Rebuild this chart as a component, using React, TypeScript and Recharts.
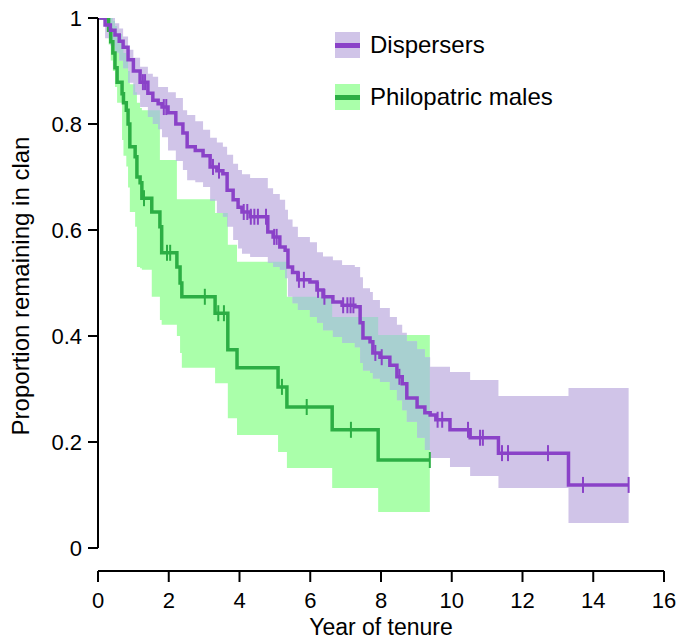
import React from 'react';
import { ComposedChart, Area, Line, Scatter, XAxis, YAxis, ReferenceLine, Legend, Label } from 'recharts';

// Dispersers: Kaplan-Meier steps (time in years)
const dispTime = [0, 0.2, 0.35, 0.48, 0.6, 0.71, 0.85, 1.0, 1.19, 1.41, 1.55, 1.7, 1.81, 1.98, 2.2, 2.4, 2.52, 2.75, 2.97, 3.17, 3.36, 3.53, 3.65, 3.82, 3.96, 4.07, 4.3, 4.8, 4.95, 5.14, 5.29, 5.37, 5.5, 5.65, 5.99, 6.19, 6.36, 6.64, 6.9, 7.26, 7.41, 7.49, 7.69, 7.77, 7.97, 8.25, 8.45, 8.6, 8.73, 9.02, 9.24, 9.39, 9.55, 9.95, 10.52, 11.32, 13.3, 15.0];
const dispSurv = [1, 0.987, 0.977, 0.968, 0.956, 0.945, 0.921, 0.9, 0.879, 0.858, 0.845, 0.838, 0.832, 0.821, 0.8, 0.783, 0.757, 0.75, 0.74, 0.719, 0.712, 0.706, 0.675, 0.657, 0.643, 0.634, 0.625, 0.596, 0.587, 0.568, 0.562, 0.53, 0.52, 0.506, 0.502, 0.487, 0.474, 0.464, 0.458, 0.455, 0.425, 0.396, 0.389, 0.368, 0.36, 0.345, 0.323, 0.31, 0.283, 0.266, 0.255, 0.251, 0.242, 0.223, 0.208, 0.179, 0.119, 0.119];
const dispLower = [1, 0.962, 0.948, 0.935, 0.92, 0.905, 0.878, 0.855, 0.832, 0.813, 0.8, 0.79, 0.775, 0.75, 0.73, 0.713, 0.694, 0.69, 0.681, 0.655, 0.632, 0.625, 0.606, 0.581, 0.565, 0.555, 0.549, 0.538, 0.53, 0.525, 0.509, 0.474, 0.462, 0.449, 0.436, 0.425, 0.411, 0.398, 0.387, 0.379, 0.349, 0.335, 0.33, 0.32, 0.313, 0.298, 0.279, 0.26, 0.238, 0.208, 0.185, 0.17, 0.17, 0.153, 0.136, 0.113, 0.047, 0.047];
const dispUpper = [1, 1, 1, 0.99, 0.98, 0.965, 0.94, 0.925, 0.908, 0.895, 0.889, 0.87, 0.87, 0.86, 0.849, 0.826, 0.817, 0.805, 0.789, 0.774, 0.765, 0.757, 0.742, 0.725, 0.713, 0.705, 0.698, 0.679, 0.668, 0.657, 0.638, 0.62, 0.606, 0.587, 0.577, 0.558, 0.55, 0.543, 0.534, 0.53, 0.511, 0.49, 0.483, 0.468, 0.453, 0.436, 0.421, 0.406, 0.39, 0.375, 0.36, 0.342, 0.342, 0.332, 0.317, 0.287, 0.302, 0.302];
const dispCensor = [1.27, 1.33, 1.86, 1.93, 3.25, 3.42, 4.12, 4.22, 4.32, 4.42, 4.52, 4.75, 4.98, 5.05, 5.68, 5.82, 6.22, 6.4, 6.93, 7.05, 7.14, 7.22, 7.84, 8.02, 8.52, 9.6, 9.73, 10.46, 10.8, 10.88, 11.42, 11.59, 12.72, 13.71, 15.0];

// Philopatric males
const philoTime = [0, 0.3, 0.36, 0.42, 0.48, 0.54, 0.68, 0.72, 0.8, 0.85, 0.9, 1.05, 1.1, 1.19, 1.24, 1.52, 1.75, 1.8, 2.23, 2.32, 2.37, 3.31, 3.67, 3.93, 5.09, 5.34, 6.62, 7.92, 9.38];
const philoSurv = [1, 0.977, 0.955, 0.934, 0.906, 0.879, 0.857, 0.84, 0.826, 0.8, 0.757, 0.738, 0.7, 0.689, 0.66, 0.634, 0.606, 0.557, 0.53, 0.5, 0.474, 0.443, 0.374, 0.34, 0.304, 0.266, 0.223, 0.166, 0.166];
const philoLower = [1, 0.95, 0.92, 0.9, 0.87, 0.84, 0.77, 0.74, 0.72, 0.68, 0.634, 0.606, 0.53, 0.528, 0.525, 0.474, 0.43, 0.421, 0.4, 0.368, 0.34, 0.311, 0.245, 0.213, 0.181, 0.151, 0.113, 0.068, 0.068];
const philoUpper = [1, 1, 1, 0.995, 0.985, 0.97, 0.95, 0.934, 0.92, 0.9, 0.875, 0.86, 0.84, 0.83, 0.826, 0.826, 0.732, 0.732, 0.658, 0.658, 0.658, 0.632, 0.572, 0.54, 0.54, 0.474, 0.436, 0.402, 0.402];
const philoCensor = [1.3, 1.95, 2.04, 3.02, 3.4, 3.56, 5.2, 5.9, 7.15, 9.38];

const seriesNames = ['Dispersers', 'Philopatric males'];
const xTicks = [0, 2, 4, 6, 8, 10, 12, 14, 16];
const yTicks = [0, 0.2, 0.4, 0.6, 0.8, 1];

const font = '"Liberation Sans", Arial, Helvetica, sans-serif';
const purple = '#8a42c8';
const purpleBand = '#d0c4e8';
const green = '#2cae44';
const greenBand = '#aaffaa';
const overlapBand = '#a8d0d0';

// value of a step curve at time t, null after the curve ends
const stepAt = (times: number[], vals: number[], t: number) => {
  if (t > times[times.length - 1]) return null;
  let v = vals[0];
  for (let i = 0; i < times.length; i++) {
    if (times[i] <= t) v = vals[i];
    else break;
  }
  return v;
};

const allTimes = Array.from(new Set([...dispTime, ...philoTime])).sort((a, b) => a - b);

const rows = allTimes.map((t) => {
  const ds = stepAt(dispTime, dispSurv, t);
  const dl = stepAt(dispTime, dispLower, t);
  const du = stepAt(dispTime, dispUpper, t);
  const ps = stepAt(philoTime, philoSurv, t);
  const pl = stepAt(philoTime, philoLower, t);
  const pu = stepAt(philoTime, philoUpper, t);
  let overlap = null;
  if (ds != null && ps != null) {
    const lo = Math.max(dl, pl);
    const hi = Math.min(du, pu);
    overlap = [lo, Math.max(lo, hi)];
  }
  return {
    t,
    disp: ds,
    dispBand: ds == null ? null : [dl, du],
    philo: ps,
    philoBand: ps == null ? null : [pl, pu],
    overlap,
  };
});

const dispCensorPts = dispCensor.map((t) => ({ t, s: stepAt(dispTime, dispSurv, t) }));
const philoCensorPts = philoCensor.map((t) => ({ t, s: stepAt(philoTime, philoSurv, t) }));

const censorMark = (color) => (props) => (
  <line x1={props.cx} x2={props.cx} y1={props.cy - 8} y2={props.cy + 8} stroke={color} strokeWidth={2} />
);

const XTitle = (props) => {
  const vb = props.viewBox;
  return (
    <text x={vb.x + vb.width / 2} y={vb.y + 56} textAnchor="middle" dominantBaseline="central" fontSize={23} fontFamily={font} fill="#000">
      Year of tenure
    </text>
  );
};

const YTitle = (props) => {
  const vb = props.viewBox;
  const cx = vb.x + 20;
  const cy = vb.y + 268;
  return (
    <text x={cx} y={cy} transform={`rotate(-90, ${cx}, ${cy})`} textAnchor="middle" dominantBaseline="central" fontSize={24} fontFamily={font} fill="#000">
      Proportion remaining in clan
    </text>
  );
};

const LegendBox = () => {
  const bands = [purpleBand, greenBand];
  const lines = [purple, green];
  return (
    <div style={{ fontFamily: font, fontSize: 24, color: '#000' }}>
      {seriesNames.map((name, i) => (
        <div key={name} style={{ display: 'flex', alignItems: 'center', height: 26, marginBottom: i === 0 ? 26 : 0 }}>
          <div style={{ width: 25, height: 26, background: bands[i], position: 'relative' }}>
            <div style={{ position: 'absolute', left: 0, right: 0, top: 10.5, height: 5, background: lines[i] }} />
          </div>
          <span style={{ marginLeft: 10, whiteSpace: 'nowrap' }}>{name}</span>
        </div>
      ))}
    </div>
  );
};

export default function App() {
  return (
    <div style={{ position: 'fixed', left: 0, top: 0, background: '#fff' }}>
      <ComposedChart width={682} height={641} data={rows} margin={{ top: 18, right: 18, bottom: 0, left: 0 }}>
        <XAxis
          dataKey="t"
          type="number"
          domain={[0, 16]}
          ticks={xTicks}
          allowDataOverflow
          height={70}
          tickSize={11}
          tickMargin={10}
          tick={{ fontSize: 22, fill: '#000', fontFamily: font }}
          axisLine={{ stroke: '#000', strokeWidth: 2 }}
          tickLine={{ stroke: '#000', strokeWidth: 2 }}
        >
          <Label content={XTitle} />
        </XAxis>
        <YAxis
          type="number"
          domain={[-23 / 530, 1]}
          ticks={yTicks}
          allowDataOverflow
          width={98}
          tickSize={10}
          tickMargin={6}
          axisLine={false}
          tickLine={{ stroke: '#000', strokeWidth: 2 }}
          tick={{ fontSize: 22, fill: '#000', fontFamily: font }}
          tickFormatter={(v) => String(v)}
        >
          <Label content={YTitle} />
        </YAxis>
        <Area dataKey="philoBand" type="stepAfter" fill={greenBand} fillOpacity={1} stroke="none" isAnimationActive={false} />
        <Area dataKey="dispBand" type="stepAfter" fill={purpleBand} fillOpacity={1} stroke="none" isAnimationActive={false} />
        <Area dataKey="overlap" type="stepAfter" fill={overlapBand} fillOpacity={1} stroke="none" isAnimationActive={false} />
        <Line dataKey="philo" type="stepAfter" stroke={green} strokeWidth={3.5} dot={false} isAnimationActive={false} />
        <Line dataKey="disp" type="stepAfter" stroke={purple} strokeWidth={3.5} dot={false} isAnimationActive={false} />
        <Scatter data={philoCensorPts} dataKey="s" shape={censorMark(green)} isAnimationActive={false} />
        <Scatter data={dispCensorPts} dataKey="s" shape={censorMark(purple)} isAnimationActive={false} />
        <ReferenceLine segment={[{ x: 0, y: 0 }, { x: 0, y: 1 }]} stroke="#000" strokeWidth={2} />
        <Legend
          layout="vertical"
          align="center"
          verticalAlign="middle"
          wrapperStyle={{ top: 32, left: 335, width: 'auto', height: 'auto' }}
          content={() => <LegendBox />}
        />
      </ComposedChart>
    </div>
  );
}
